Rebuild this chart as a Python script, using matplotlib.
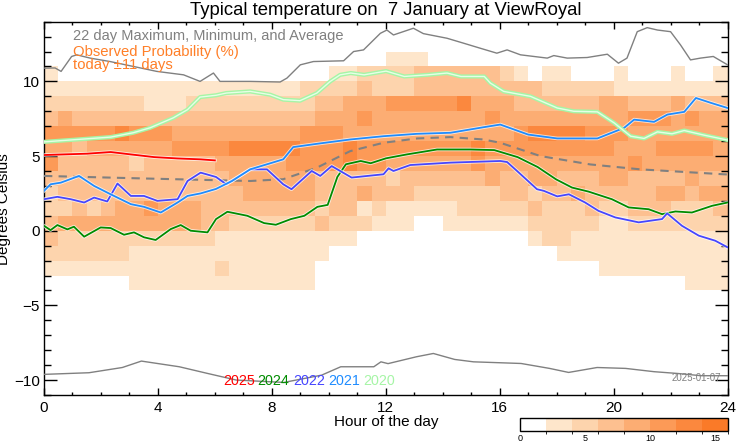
import matplotlib
matplotlib.use("Agg")
import matplotlib.pyplot as plt
import matplotlib.patheffects as pe
import numpy as np
from matplotlib.colors import BoundaryNorm, ListedColormap

plt.rcParams['font.family'] = ['Liberation Sans', 'DejaVu Sans']

# observed probability (%) per half hour (columns) and 1 degree band (rows, top = 11..12 C)
prob_rows = [
    [0, 0, 0, 0, 0, 0, 0, 0, 0, 0, 0, 0, 0, 0, 0, 0, 0, 0, 0, 0, 0, 0, 0, 0,
     3, 3, 3, 0, 0, 0, 0, 0, 0, 0, 0, 0, 0, 0, 0, 0, 0, 0, 0, 0, 0, 0, 0, 0],
    [3, 0, 0, 0, 0, 0, 0, 0, 0, 0, 0, 0, 0, 0, 0, 0, 0, 0, 0, 0, 3, 3, 5, 5,
     5, 5, 7, 7, 7, 7, 7, 7, 5, 3, 0, 3, 3, 0, 0, 0, 3, 0, 0, 0, 3, 0, 0, 3],
    [3, 3, 3, 3, 3, 3, 3, 3, 3, 3, 3, 3, 3, 3, 3, 3, 3, 3, 5, 5, 5, 5, 7, 5,
     5, 5, 7, 7, 7, 7, 7, 7, 7, 7, 7, 5, 5, 5, 5, 5, 3, 3, 3, 3, 3, 3, 3, 3],
    [5, 5, 5, 5, 5, 5, 5, 3, 3, 3, 5, 5, 5, 5, 5, 5, 5, 5, 5, 7, 7, 9, 9, 9,
     11, 11, 11, 11, 11, 13, 9, 9, 9, 7, 7, 7, 7, 7, 7, 9, 9, 7, 7, 7, 9, 7, 7, 7],
    [7, 9, 7, 7, 7, 7, 7, 7, 7, 7, 7, 7, 7, 7, 7, 7, 7, 7, 7, 9, 9, 9, 11, 9,
     9, 9, 9, 9, 9, 9, 9, 11, 9, 9, 9, 9, 9, 9, 9, 9, 9, 11, 11, 11, 9, 11, 9, 9],
    [11, 11, 11, 11, 11, 13, 11, 11, 11, 9, 9, 9, 9, 9, 9, 9, 9, 9, 11, 11, 11, 9, 9, 9,
     9, 9, 9, 9, 9, 9, 9, 9, 9, 11, 13, 13, 13, 13, 11, 11, 11, 9, 9, 9, 9, 9, 9, 9],
    [9, 9, 7, 9, 9, 9, 9, 9, 9, 11, 11, 11, 11, 13, 13, 13, 13, 13, 11, 11, 11, 13, 11, 11,
     11, 11, 11, 11, 11, 11, 13, 11, 11, 11, 11, 11, 11, 11, 11, 11, 9, 9, 9, 11, 11, 11, 11, 9],
    [11, 7, 7, 7, 7, 7, 5, 7, 7, 7, 7, 7, 9, 9, 9, 9, 9, 11, 11, 11, 11, 13, 11, 11,
     9, 9, 9, 9, 9, 9, 11, 9, 9, 9, 9, 9, 9, 9, 9, 9, 9, 11, 9, 9, 9, 9, 9, 9],
    [7, 7, 7, 7, 7, 7, 7, 7, 7, 7, 7, 7, 7, 9, 9, 9, 9, 9, 9, 7, 7, 7, 7, 7,
     5, 7, 7, 7, 7, 7, 7, 9, 7, 7, 9, 9, 7, 7, 7, 9, 9, 7, 7, 7, 7, 9, 7, 7],
    [5, 7, 7, 7, 7, 7, 7, 7, 7, 7, 7, 7, 7, 7, 9, 9, 9, 9, 9, 7, 7, 7, 9, 7,
     7, 7, 5, 5, 5, 5, 5, 5, 7, 7, 5, 7, 7, 9, 7, 7, 7, 7, 7, 9, 9, 7, 9, 9],
    [5, 5, 7, 5, 7, 9, 9, 11, 9, 9, 9, 7, 7, 7, 7, 7, 7, 7, 7, 5, 7, 7, 3, 5,
     3, 3, 3, 3, 3, 5, 5, 5, 5, 5, 7, 5, 5, 5, 7, 5, 5, 7, 7, 7, 5, 5, 5, 7],
    [7, 9, 9, 9, 9, 9, 9, 9, 9, 9, 9, 7, 7, 5, 5, 5, 5, 5, 5, 7, 5, 5, 5, 3,
     3, 3, 0, 0, 3, 3, 3, 3, 3, 3, 5, 5, 5, 5, 5, 3, 3, 5, 5, 5, 5, 5, 5, 5],
    [7, 5, 5, 5, 5, 5, 5, 5, 5, 5, 5, 5, 3, 3, 3, 3, 3, 3, 3, 3, 3, 3, 0, 0,
     0, 0, 0, 0, 0, 0, 0, 0, 0, 0, 3, 5, 5, 3, 3, 3, 3, 3, 3, 3, 3, 3, 3, 3],
    [5, 5, 5, 5, 5, 5, 3, 3, 3, 3, 3, 3, 3, 3, 3, 3, 3, 3, 3, 3, 0, 0, 0, 0,
     0, 0, 0, 0, 0, 0, 0, 0, 0, 0, 0, 0, 3, 3, 3, 3, 3, 3, 3, 3, 3, 3, 3, 3],
    [3, 3, 3, 3, 3, 3, 3, 3, 3, 3, 3, 3, 5, 3, 3, 3, 3, 3, 3, 0, 0, 0, 0, 0,
     0, 0, 0, 0, 0, 0, 0, 0, 0, 0, 0, 0, 0, 0, 0, 3, 3, 3, 3, 3, 3, 3, 3, 3],
    [0, 0, 0, 0, 0, 0, 3, 3, 3, 3, 3, 3, 3, 3, 3, 3, 3, 3, 3, 0, 0, 0, 0, 0,
     0, 0, 0, 0, 0, 0, 0, 0, 0, 0, 0, 0, 0, 0, 0, 0, 0, 0, 0, 0, 0, 3, 3, 3],
]
prob_top = 12
prob_bottom = -4

max_hours = [0, 0.39, 0.6, 0.97, 1.15, 1.62, 2.32, 3.14, 3.96, 4.9, 5.48, 5.95, 6.18, 7.24,
             8.29, 8.53, 9.0, 9.46, 10.52, 10.87, 11.22, 11.81, 12.04, 12.27, 12.97, 13.32,
             14.15, 14.73, 15.32, 15.9, 16.26, 16.73, 17.67, 17.9, 18.37, 19.07, 19.78, 20.17,
             20.47, 20.83, 21.18, 21.54, 22.0, 22.35, 22.7, 23.05, 23.5, 24.0]
max_temp = [10.89, 10.9, 10.67, 11.67, 11.78, 11.56, 11.33, 11.0, 10.67, 10.44, 10.0, 10.56,
            10.0, 10.0, 9.96, 10.22, 11.11, 11.33, 11.38, 12.0, 12.11, 13.22, 13.44, 13.11,
            13.56, 13.2, 12.89, 12.56, 12.22, 11.89, 12.11, 11.78, 11.56, 11.73, 11.56, 11.6,
            11.82, 11.22, 11.56, 13.33, 13.6, 13.44, 13.33, 12.44, 11.44, 11.56, 11.67, 11.11]

min_hours = [0, 1.58, 2.75, 3.42, 4.75, 5.75, 6.75, 8.42, 9.75, 10.42, 11.58, 11.83, 12.08,
             13.08, 13.67, 14.42, 15.08, 16.75, 17.75, 18.42, 19.42, 20.42, 21.42, 22.25,
             23.08, 24.0]
min_temp = [-9.62, -9.51, -9.16, -8.73, -9.11, -9.56, -10.0, -10.16, -9.67, -9.11, -9.11,
            -8.78, -8.9, -8.44, -8.22, -8.62, -8.78, -8.89, -9.22, -9.49, -9.16, -9.22, -9.44,
            -9.56, -9.71, -9.71]

avg_hours = [0, 3.5, 7.24, 8.4, 9.58, 10.75, 11.92, 13.1, 14.27, 15.43, 16.02, 17.43, 19.18,
             20.94, 23.86, 24.0]
avg_temp = [3.67, 3.5, 3.33, 3.45, 4.22, 5.33, 5.89, 6.18, 6.27, 6.11, 5.89, 5.0, 4.44, 4.11,
            3.78, 3.77]

hours_2025 = [0, 1.52, 2.34, 3.05, 3.87, 4.69, 5.5, 6.0]
temp_2025 = [5.07, 5.16, 5.27, 5.11, 4.93, 4.84, 4.78, 4.71]

hours_2024 = [0, 0.23, 0.47, 0.82, 1.05, 1.41, 1.99, 2.34, 2.81, 3.16, 3.51, 3.92, 4.45, 4.8,
              5.15, 5.74, 6.04, 6.44, 7.14, 7.73, 8.14, 8.67, 9.14, 9.6, 9.96, 10.3, 10.6,
              11.12, 11.47, 12.01, 12.74, 13.8, 14.97, 15.81, 16.63, 17.33, 17.98, 18.54,
              19.12, 19.94, 20.53, 21.23, 21.7, 22.17, 22.75, 23.46, 24.0]
temp_2024 = [0.33, 0.04, 0.38, 0.09, 0.27, -0.4, 0.22, 0.18, -0.27, -0.11, -0.44, -0.62, 0.11,
             0.38, 0.0, -0.11, 0.78, 1.27, 1.0, 0.51, 0.4, 0.78, 1.0, 1.6, 1.73, 3.6, 4.45,
             4.67, 4.52, 4.85, 5.11, 5.44, 5.44, 5.4, 4.93, 4.27, 3.44, 2.89, 2.62, 2.11, 1.56,
             1.44, 1.11, 1.29, 1.22, 1.67, 1.89]

hours_2022 = [0, 0.47, 0.94, 1.41, 1.76, 2.22, 2.58, 3.05, 3.51, 3.98, 4.69, 5.04, 5.5, 6.04,
              6.4, 7.24, 7.83, 8.4, 8.69, 9.4, 9.7, 10.1, 10.8, 11.92, 12.1, 12.27, 12.86,
              14.27, 16.02, 16.26, 16.61, 17.31, 17.55, 18.02, 18.43, 19.0, 19.47, 20.06,
              20.88, 21.7, 21.88, 22.05, 22.4, 22.99, 23.57, 24.0]
temp_2022 = [2.11, 2.27, 2.11, 1.89, 2.22, 1.96, 3.16, 2.33, 2.33, 2.0, 2.11, 3.33, 3.89, 3.6,
             3.11, 4.11, 4.11, 3.11, 2.78, 4.0, 3.67, 4.33, 3.56, 3.78, 4.18, 4.0, 4.4, 4.56,
             4.67, 4.6, 4.0, 2.78, 2.67, 2.3, 2.44, 1.89, 1.33, 0.89, 0.56, 0.78, 1.16, 0.89,
             0.33, -0.33, -0.67, -1.11]

hours_2021 = [0, 0.23, 0.59, 1.23, 1.76, 2.34, 3.05, 3.51, 4.1, 4.69, 5.04, 5.5, 6.04, 6.6,
              7.24, 8.4, 8.75, 9.58, 10.75, 11.92, 13.1, 14.27, 15.43, 16.02, 17.0, 18.02,
              19.43, 20.37, 20.72, 21.42, 21.89, 22.48, 22.89, 23.42, 24.0]
temp_2021 = [2.67, 3.11, 3.22, 3.67, 3.0, 2.44, 1.78, 1.6, 1.22, 1.89, 2.33, 2.5, 2.8, 3.33,
             4.11, 4.78, 5.6, 5.82, 6.11, 6.33, 6.49, 6.56, 6.93, 7.11, 6.44, 6.18, 6.18, 6.89,
             7.44, 7.29, 7.78, 7.96, 8.89, 8.56, 8.22]

hours_2020 = [0, 1.17, 2.34, 3.13, 3.72, 4.54, 5.04, 5.48, 6.04, 6.4, 7.24, 7.94, 8.4, 8.99,
              9.58, 10.05, 10.4, 10.77, 11.24, 12.01, 12.65, 13.47, 14.15, 14.64, 15.46,
              15.67, 16.14, 17.08, 18.02, 18.6, 19.43, 20.02, 20.6, 21.07, 21.54, 22.05,
              22.48, 23.18, 24.0]
temp_2020 = [5.95, 6.11, 6.27, 6.56, 6.89, 7.56, 8.11, 8.95, 9.07, 9.22, 9.33, 9.11, 8.78,
             8.71, 9.22, 10.0, 10.44, 10.56, 10.44, 10.69, 10.33, 10.44, 10.56, 10.33, 10.33,
             9.89, 9.33, 9.0, 8.22, 8.0, 7.96, 7.22, 6.33, 6.18, 6.62, 6.49, 6.71, 6.4, 6.07]

year_labels = ['2025', '2024', '2022', '2021', '2020']
year_colors = ['#ff0000', '#008c00', '#4646ff', '#1e8cff', '#a6f5a6']
prob_colors = ['#ffffff', '#fee6cb', '#fdd4ad', '#fdc090', '#fcad73', '#fc9a57', '#fb883e',
               '#fa7a28']
prob_levels = [0, 2, 4, 6, 8, 10, 12, 14, 16]

fig = plt.figure(figsize=(7.42, 4.45), dpi=100)
ax = fig.add_axes([0.0593, 0.1124, 0.9212, 0.8389])

cmap = ListedColormap(prob_colors)
norm = BoundaryNorm(prob_levels, cmap.N)
prob = np.array(prob_rows)[::-1]
x_edges = np.arange(0, 24.01, 0.5)
y_edges = np.arange(prob_bottom, prob_top + 0.01, 1)
mesh = ax.pcolormesh(x_edges, y_edges, prob, cmap=cmap, norm=norm, zorder=1)

ax.plot(max_hours, max_temp, color='#808080', lw=1.0, zorder=3)
ax.plot(min_hours, min_temp, color='#808080', lw=1.0, zorder=3)
ax.plot(avg_hours, avg_temp, color='#808080', lw=1.5, ls=(0, (4, 3)), zorder=3)

halo = [pe.Stroke(linewidth=2.6, foreground='white', alpha=0.7), pe.Normal()]
series = [(hours_2025, temp_2025), (hours_2024, temp_2024), (hours_2022, temp_2022),
          (hours_2021, temp_2021)]
for (hx, ty), c in zip(series, year_colors[:4]):
    ax.plot(hx, ty, color=c, lw=1.3, zorder=4, path_effects=halo)
ax.plot(hours_2020, temp_2020, color='#a6f5a6', lw=3.0, zorder=4)
ax.plot(hours_2020, temp_2020, color='#e6ffe6', lw=1.0, zorder=4)

ax.set_xlim(0, 24)
ax.set_ylim(-11, 14)
ax.set_xticks(range(0, 25, 4))
ax.set_xticks(range(0, 25), minor=True)
ax.set_yticks([-10, -5, 0, 5, 10])
ax.set_yticks(range(-11, 15), minor=True)
ax.xaxis.set_tick_params(which='major', direction='in', length=5, width=1, top=True,
                         labelsize=11, pad=4)
ax.xaxis.set_tick_params(which='minor', direction='in', length=2.5, width=1, top=True)
ax.yaxis.set_tick_params(which='major', direction='in', length=9.4, width=1, right=True,
                         labelsize=11, pad=3)
ax.yaxis.set_tick_params(which='minor', direction='in', length=4.7, width=1, right=True)
for s in ax.spines.values():
    s.set_linewidth(1.0)

fig.text(0.52, 0.977, 'Typical temperature on  7 January at ViewRoyal', ha='center',
         va='center', fontsize=13.3)
fig.text(0.52, 1 - 422 / 445, 'Hour of the day', ha='center', va='center', fontsize=11)
fig.text(0.006, 0.53, 'Degrees Celsius', rotation=90, ha='center', va='center', fontsize=11)

ax.text(1.02, 13.07, '22 day Maximum, Minimum, and Average', color='#808080', fontsize=10.5,
        va='center', zorder=6)
ax.text(1.02, 11.95, 'Observed Probability (%)', color='#ff7f27', fontsize=10.7,
        va='center', zorder=6)
ax.text(1.02, 11.1, 'today \u00b111 days', color='#ff7f27', fontsize=10.7, va='center',
        zorder=6)

year_x = [6.30, 7.50, 8.76, 9.99, 11.20]
for xp, lab, c in zip(year_x, year_labels, year_colors):
    ax.text(xp, -10.33, lab, color=c, fontsize=10.3, va='baseline', zorder=6)
ax.text(23.79, -9.87, '2025-01-07', color='#808080', fontsize=7, ha='right', va='center',
        zorder=6)

cax = fig.add_axes([520 / 742, 1 - 431 / 445, 208 / 742, 13 / 445])
cb = fig.colorbar(mesh, cax=cax, orientation='horizontal', ticks=[0, 5, 10, 15])
cb.ax.tick_params(length=0, labelsize=6.5, pad=2)
cb.outline.set_linewidth(1.0)

fig.savefig('out.png', dpi=100)
